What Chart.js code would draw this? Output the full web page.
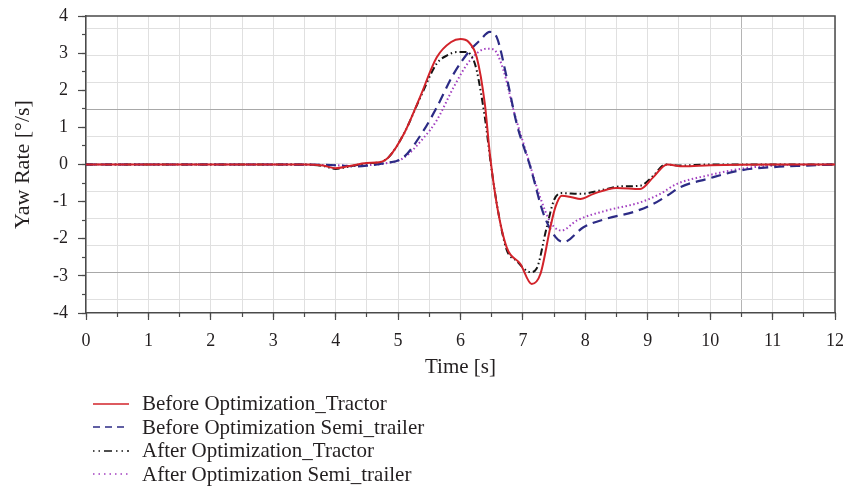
<!DOCTYPE html>
<html>
<head>
<meta charset="utf-8">
<script src="https://cdn.jsdelivr.net/npm/chart.js@4.4.1/dist/chart.umd.min.js"></script>
<style>
    html, body { margin: 0; padding: 0; background: #fff; }
    #wrap { position: relative; width: 846px; height: 489px; }
    #legend { position: absolute; left: 93px; top: 392px; font-family: "Liberation Serif", serif; font-size: 21px; color: #231f20; }
    .row { display: flex; align-items: center; height: 23.5px; white-space: nowrap; }
    .row svg { width: 36px; height: 10px; margin-right: 13px; flex: none; }
</style>
</head>
<body>
<div id="wrap">
    <canvas id="chart" width="846" height="489" style="width:846px;height:489px"></canvas>
    <div id="legend"></div>
</div>
<script>
// Before Optimization_Tractor
const timeTractorBefore = [0, 1, 2, 3, 3.5, 3.8, 4.0, 4.2, 4.5, 4.7, 4.85, 5.1, 5.35, 5.62, 5.85, 6.0, 6.13, 6.26, 6.39, 6.47, 6.58, 6.74, 6.96, 7.14, 7.28, 7.44, 7.52, 7.62, 7.78, 7.92, 8.13, 8.5, 8.88, 9.09, 9.31, 9.57, 10, 11, 12];
const yawTractorBefore = [0, 0, 0, 0, 0, -0.03, -0.1, -0.05, 0.04, 0.06, 0.2, 0.85, 1.81, 2.89, 3.3, 3.38, 3.3, 2.89, 1.63, 0.29, -1.06, -2.23, -2.68, -3.22, -2.95, -1.69, -1.15, -0.84, -0.88, -0.93, -0.79, -0.63, -0.66, -0.34, 0, -0.05, -0.02, 0, 0];

// Before Optimization Semi_trailer
const timeTrailerBefore = [0, 1, 2, 3, 4, 4.3, 4.5, 4.76, 5.09, 5.41, 5.62, 5.89, 6.15, 6.31, 6.47, 6.58, 6.74, 6.9, 7.12, 7.33, 7.52, 7.65, 7.97, 8.34, 8.77, 9.09, 9.31, 9.52, 9.95, 10.48, 11.01, 11.55, 12];
const yawTrailerBefore = [0, 0, 0, 0, -0.02, -0.05, -0.03, 0.03, 0.2, 0.92, 1.54, 2.44, 3.07, 3.34, 3.57, 3.43, 2.35, 1.1, -0.07, -1.33, -1.95, -2.09, -1.69, -1.46, -1.28, -1.06, -0.84, -0.61, -0.39, -0.16, -0.07, -0.03, 0];

// After Optimization_Tractor
const timeTractorAfter = [0, 1, 2, 3, 3.5, 3.8, 4.0, 4.2, 4.5, 4.7, 4.85, 5.1, 5.35, 5.62, 5.8, 5.94, 6.1, 6.2, 6.26, 6.39, 6.5, 6.61, 6.74, 6.9, 7.12, 7.22, 7.38, 7.5, 7.62, 7.92, 8.34, 8.56, 8.88, 9.09, 9.28, 9.5, 10, 11, 12];
const yawTractorAfter = [0, 0, 0, 0, 0, -0.04, -0.12, -0.06, 0.03, 0.06, 0.2, 0.85, 1.78, 2.72, 2.95, 3.03, 3.03, 2.85, 2.53, 1.27, -0.16, -1.33, -2.3, -2.6, -2.9, -2.8, -1.7, -0.95, -0.77, -0.79, -0.66, -0.59, -0.57, -0.3, 0, -0.03, 0, 0, 0];

// After Optimization Semi_trailer
const timeTrailerAfter = [0, 1, 2, 3, 4, 4.3, 4.5, 4.8, 5.09, 5.4, 5.62, 5.89, 6.15, 6.42, 6.53, 6.69, 6.85, 7.06, 7.28, 7.44, 7.62, 7.86, 8.34, 8.88, 9.2, 9.47, 9.95, 10.48, 11, 12];
const yawTrailerAfter = [0, 0, 0, 0, -0.02, -0.04, -0.02, 0.03, 0.18, 0.7, 1.19, 2.08, 2.8, 3.12, 3.1, 2.53, 1.46, 0.29, -0.9, -1.55, -1.78, -1.51, -1.24, -1.02, -0.79, -0.52, -0.3, -0.12, -0.03, 0];

const seriesLabels = ['Before Optimization_Tractor', 'Before Optimization Semi_trailer', 'After Optimization_Tractor', 'After Optimization Semi_trailer'];

const TEXT = '#231f20';
const AXIS = '#4a4a4a';

Chart.defaults.font.family = '"Liberation Serif", "Times New Roman", serif';
Chart.defaults.color = TEXT;

function pts(xs, ys) {
    return xs.map((x, i) => ({ x: x, y: ys[i] }));
}

const seriesStyles = [
    { color: '#d2232a', dash: [], width: 2, legendDash: '' },
    { color: '#2c2b85', dash: [10, 6], width: 2.2, legendDash: '7 5' },
    { color: '#151515', dash: [7, 3, 1.5, 3, 1.5, 3], width: 2, legendDash: '1.5 4 1.5 4 8 4' },
    { color: '#a23fc0', dash: [1.5, 2.5], width: 2, legendDash: '1.5 4' }
];

const seriesData = [
    pts(timeTractorBefore, yawTractorBefore),
    pts(timeTrailerBefore, yawTrailerBefore),
    pts(timeTractorAfter, yawTractorAfter),
    pts(timeTrailerAfter, yawTrailerAfter)
];

const datasets = seriesData.map((d, i) => ({
    label: seriesLabels[i],
    data: d,
    xAxisID: 'x',
    yAxisID: 'y',
    borderColor: seriesStyles[i].color,
    borderDash: seriesStyles[i].dash,
    borderWidth: seriesStyles[i].width,
    pointRadius: 0,
    fill: false,
    cubicInterpolationMode: 'monotone',
    order: i + 1
}));

// plot frame (top + right edges)
const framePlugin = {
    id: 'frame',
    beforeDatasetsDraw(chart) {
        const { ctx, chartArea: a } = chart;
        ctx.save();
        ctx.strokeStyle = AXIS;
        ctx.lineWidth = 1.5;
        ctx.beginPath();
        ctx.moveTo(a.left, a.top);
        ctx.lineTo(a.right, a.top);
        ctx.lineTo(a.right, a.bottom);
        ctx.stroke();
        ctx.restore();
    }
};

// zero-size axes that only draw tick marks
function tickAxis(pos, max, step, len, min) {
    const horiz = pos === 'bottom';
    return {
        type: 'linear', position: pos, min: min, max: max, weight: 0,
        ticks: { stepSize: step, display: false },
        grid: { drawOnChartArea: false, tickLength: len, tickColor: AXIS, tickWidth: 1.2 },
        border: { display: false },
        afterFit: s => { if (horiz) s.height = 0; else s.width = 0; }
    };
}

new Chart(document.getElementById('chart').getContext('2d'), {
    type: 'line',
    data: { datasets: datasets },
    options: {
        responsive: false,
        animation: false,
        layout: { padding: { left: 8, right: 11, top: 16, bottom: 106 } },
        plugins: { legend: { display: false }, tooltip: { enabled: false } },
        scales: {
            x: {
                type: 'linear', position: 'bottom', min: 0, max: 12, weight: 1,
                ticks: { stepSize: 1, padding: 1, maxRotation: 0, autoSkip: false, font: { size: 18 }, color: TEXT, callback: v => String(v) },
                grid: { drawOnChartArea: false, tickLength: 16, tickColor: 'rgba(0,0,0,0)' },
                border: { color: AXIS, width: 1.5 },
                title: { display: true, text: 'Time [s]', font: { size: 21 }, color: TEXT, padding: { top: 0, bottom: 3 } },
                afterFit: s => { s.height = 70; }
            },
            xMajor: tickAxis('bottom', 12, 1, 7, 0),
            xMinor: {
                type: 'linear', position: 'bottom', min: 0, max: 12, weight: 0,
                ticks: { stepSize: 0.5, display: false },
                grid: {
                    tickLength: 4, tickColor: AXIS, tickWidth: 1.2,
                    color: c => (c.tick && c.tick.value === 10.5) ? '#b4b4b4' : '#e0e0e0'
                },
                border: { display: false },
                afterFit: s => { s.height = 0; }
            },
            y: {
                type: 'linear', position: 'left', min: -4, max: 4, weight: 1,
                ticks: { stepSize: 1, padding: 0, font: { size: 18 }, color: TEXT, callback: v => String(v) },
                grid: { drawOnChartArea: false, tickLength: 18, tickColor: 'rgba(0,0,0,0)' },
                border: { color: AXIS, width: 1.5 },
                title: { display: true, text: 'Yaw Rate [°/s]', font: { size: 22 }, color: TEXT, padding: { top: 2, bottom: 0 } },
                afterFit: s => { s.width = 78; }
            },
            yMajor: tickAxis('left', 4, 1, 8, -4),
            yMinor: tickAxis('left', 4, 0.5, 4, -4),
            // horizontal grid of the original sits on its own spacing
            yGrid: {
                type: 'linear', position: 'right', min: -0.5, max: 10.46,
                ticks: { stepSize: 1, display: false, includeBounds: false },
                grid: {
                    drawTicks: false,
                    color: c => (c.tick && (c.tick.value === 1 || c.tick.value === 7)) ? '#a8a8a8' : '#e0e0e0'
                },
                border: { display: false },
                afterFit: s => { s.width = 0; }
            }
        }
    },
    plugins: [framePlugin]
});

// legend (vertical list under the plot)
const legendEl = document.getElementById('legend');
seriesLabels.forEach((label, i) => {
    const st = seriesStyles[i];
    const row = document.createElement('div');
    row.className = 'row';
    row.innerHTML = '<svg viewBox="0 0 36 10"><line x1="0" y1="5" x2="36" y2="5" stroke="' + st.color +
        '" stroke-width="1.4"' + (st.legendDash ? ' stroke-dasharray="' + st.legendDash + '"' : '') + '/></svg>' +
        '<span>' + label + '</span>';
    legendEl.appendChild(row);
});
</script>
</body>
</html>
